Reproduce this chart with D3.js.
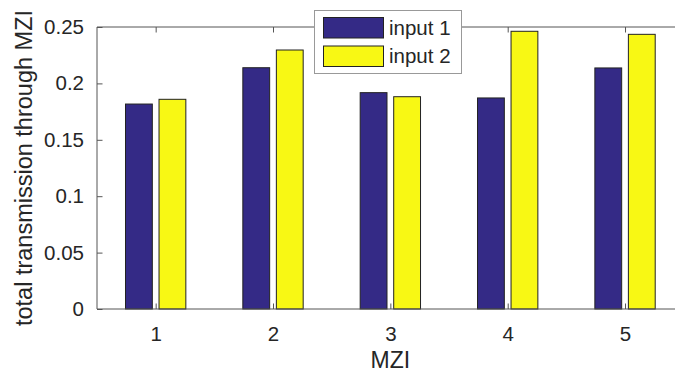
<!DOCTYPE html>
<html>
<head>
<meta charset="utf-8">
<script src="https://cdn.jsdelivr.net/npm/d3@7"></script>
<style>
  html, body { margin: 0; padding: 0; background: #fff; }
  svg { display: block; font-family: "Liberation Sans", Arial, Helvetica, sans-serif; }
</style>
</head>
<body>
<svg id="chart" width="675" height="374"></svg>
<script>
const categories = [1, 2, 3, 4, 5];
const seriesNames = ["input 1", "input 2"];
const input1 = [0.1817, 0.2139, 0.1918, 0.1871, 0.2137];
const input2 = [0.1859, 0.2296, 0.1882, 0.2462, 0.2435];
const yTicks = [0, 0.05, 0.1, 0.15, 0.2, 0.25];
const yTickLabels = ["0", "0.05", "0.1", "0.15", "0.2", "0.25"];
const colors = ["#342a86", "#f8f814"];

(function () {
const svg = d3.select("#chart");
const L = 97, R = 683.7, T = 27, B = 309;
const x = d3.scaleLinear().domain([0.5, 5.5]).range([L, R]);
const y = d3.scaleLinear().domain([0, 0.25]).range([B, T]);

const axisColor = "#555";
const textColor = "#262626";

// bars
const groupWidth = 0.5714;
const barW = 0.8 * groupWidth / 2;
const offsets = [-groupWidth / 4, groupWidth / 4];
const series = [input1, input2];
series.forEach((vals, si) => {
  svg.append("g").selectAll("rect").data(categories).join("rect")
    .attr("x", (c, i) => x(c + offsets[si] - barW / 2))
    .attr("width", x(barW) - x(0))
    .attr("y", (c, i) => y(vals[i]))
    .attr("height", (c, i) => y(0) - y(vals[i]))
    .attr("fill", colors[si])
    .attr("stroke", "#222")
    .attr("stroke-width", 1);
});

// axes box
const tickLen = 5.5;
const gBottom = svg.append("g").attr("transform", `translate(0,${B})`)
  .call(d3.axisBottom(x).tickValues(categories).tickSize(-tickLen).tickPadding(17).tickFormat(d3.format("d")));
const gTop = svg.append("g").attr("transform", `translate(0,${T})`)
  .call(d3.axisTop(x).tickValues(categories).tickSize(-tickLen).tickFormat(""));
const gLeft = svg.append("g").attr("transform", `translate(${L},0)`)
  .call(d3.axisLeft(y).tickValues(yTicks).tickSize(-tickLen).tickPadding(13)
    .tickFormat((d, i) => yTickLabels[i]));
const gRight = svg.append("g").attr("transform", `translate(${R},0)`)
  .call(d3.axisRight(y).tickValues(yTicks).tickSize(-tickLen).tickFormat(""));

[gBottom, gTop, gLeft, gRight].forEach(g => {
  g.select(".domain").attr("stroke", axisColor).attr("stroke-width", 1);
  g.selectAll(".tick line").attr("stroke", axisColor).attr("stroke-width", 1);
  g.selectAll("text").attr("fill", textColor).style("font-size", "20.5px")
    .style("font-family", "Liberation Sans, Arial, sans-serif");
});
gBottom.select(".domain").attr("d", `M${L},0H${R}`);
gTop.select(".domain").attr("d", `M${L},0H${R}`);
gLeft.select(".domain").attr("d", `M0,${B}V${T}`);
gRight.select(".domain").attr("d", `M0,${B}V${T}`);

// axis labels
svg.append("text")
  .attr("x", (L + R) / 2).attr("y", 368)
  .attr("text-anchor", "middle")
  .attr("fill", textColor).style("font-size", "23px")
  .text("MZI");
svg.append("text")
  .attr("transform", `translate(32,${(T + B) / 2}) rotate(-90)`)
  .attr("text-anchor", "middle")
  .attr("fill", textColor).style("font-size", "23.5px")
  .text("total transmission through MZI");

// legend
const lg = svg.append("g");
lg.append("rect").attr("x", 314.5).attr("y", 10.5).attr("width", 147).attr("height", 63)
  .attr("fill", "#fff").attr("stroke", "#999").attr("stroke-width", 1);
seriesNames.forEach((name, i) => {
  const yy = 17.5 + i * 28.5;
  lg.append("rect").attr("x", 323.5).attr("y", yy).attr("width", 60).attr("height", 20.5)
    .attr("fill", colors[i]).attr("stroke", "#222").attr("stroke-width", 1);
  lg.append("text").attr("x", 389).attr("y", yy + 17)
    .attr("fill", textColor).style("font-size", "20.5px").text(name);
});
})();
</script>
</body>
</html>
